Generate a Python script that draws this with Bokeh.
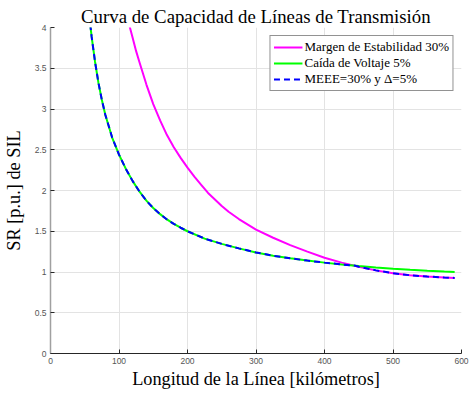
from bokeh.plotting import figure
from bokeh.embed import file_html
from bokeh.resources import INLINE
from bokeh.models import FixedTicker, NumeralTickFormatter, Range1d, Legend, LegendItem

# ---- data ----
green_km = [58, 60, 65, 70, 75, 80, 90, 100, 110, 120, 130, 140, 150, 160, 170, 180, 190, 200,
            225, 250, 275, 300, 325, 350, 375, 400, 425, 450, 475, 500, 525, 550, 575, 590]
green_sr = [4.04, 3.89, 3.58, 3.32, 3.11, 2.93, 2.65, 2.44, 2.265, 2.115, 1.985, 1.875, 1.785,
            1.71, 1.645, 1.59, 1.543, 1.50, 1.41, 1.345, 1.29, 1.24, 1.20, 1.168, 1.14, 1.115,
            1.093, 1.073, 1.056, 1.041, 1.028, 1.016, 1.005, 0.999]

mag_km = [115, 120, 125, 130, 140, 150, 160, 170, 180, 190, 200, 210, 220, 230, 240, 250, 260,
          275, 300, 325, 350, 375, 400, 425, 450, 475, 500, 525, 550, 575, 590]
mag_sr = [4.03, 3.87, 3.71, 3.57, 3.30, 3.06, 2.86, 2.68, 2.53, 2.40, 2.28, 2.17, 2.07, 1.97,
          1.89, 1.81, 1.74, 1.65, 1.52, 1.42, 1.33, 1.25, 1.175, 1.115, 1.065, 1.02, 0.985,
          0.96, 0.944, 0.933, 0.927]

blue_km = [58, 60, 65, 70, 75, 80, 90, 100, 110, 120, 130, 140, 150, 160, 170, 180, 190, 200,
           225, 250, 275, 300, 325, 350, 375, 400, 425, 445, 450, 475, 500, 525, 550, 575, 590]
blue_sr = [4.04, 3.89, 3.58, 3.32, 3.11, 2.93, 2.65, 2.44, 2.265, 2.115, 1.985, 1.875, 1.785,
           1.71, 1.645, 1.59, 1.543, 1.50, 1.41, 1.345, 1.29, 1.24, 1.20, 1.168, 1.14, 1.115,
           1.093, 1.077, 1.065, 1.02, 0.985, 0.96, 0.944, 0.933, 0.927]

x_ticks = [0, 100, 200, 300, 400, 500, 600]
y_ticks = [0, 0.5, 1, 1.5, 2, 2.5, 3, 3.5, 4]

title_text = "Curva de Capacidad de Líneas de Transmisión"
x_label = "Longitud de la Línea [kilómetros]"
y_label = "SR [p.u.] de SIL"
names = ["Margen de Estabilidad 30%", "Caída de Voltaje 5%", "MEEE=30% y \u0394=5%"]

SERIF = "Liberation Serif"
SANS = "Liberation Sans"

p = figure(width=469, height=393, output_backend="svg", toolbar_location=None,
           x_range=Range1d(0, 600), y_range=Range1d(0, 4),
           min_border_left=49, min_border_right=8, min_border_top=27, min_border_bottom=40,
           title=title_text)
p.outline_line_color = None
p.background_fill_color = "white"
p.border_fill_color = "white"

p.title.text_font = SERIF
p.title.text_font_size = "18.8px"
p.title.text_font_style = "normal"
p.title.align = "center"
p.title.text_color = "#000000"
p.title.standoff = 2

for ax in (p.xaxis[0], p.yaxis[0]):
    ax.major_tick_in = 4
    ax.major_tick_out = 0
    ax.minor_tick_in = 0
    ax.minor_tick_out = 0
    ax.major_label_text_font = SANS
    ax.major_label_text_font_size = "8.5px"
    ax.major_label_text_color = "#555555"
    ax.axis_label_text_font = SERIF
    ax.axis_label_text_font_size = "18.3px"
    ax.axis_label_text_font_style = "normal"
    ax.axis_label_text_color = "#000000"

p.xaxis[0].ticker = FixedTicker(ticks=x_ticks)
p.yaxis[0].ticker = FixedTicker(ticks=y_ticks)
p.yaxis[0].formatter = NumeralTickFormatter(format="0.[0]")
p.xaxis[0].axis_label = x_label
p.yaxis[0].axis_label = y_label
p.xaxis[0].axis_line_color = "#262626"
p.xaxis[0].major_tick_line_color = "#262626"
p.yaxis[0].axis_line_color = "#a0a0a0"
p.yaxis[0].axis_line_width = 1.5
p.yaxis[0].major_tick_line_color = "#262626"
p.xaxis[0].major_label_standoff = 4
p.yaxis[0].major_label_standoff = 4
p.xaxis[0].axis_label_standoff = 2
p.yaxis[0].axis_label_standoff = 8

p.xgrid.grid_line_color = "#e3e3e3"
p.ygrid.grid_line_color = "#e3e3e3"
p.xgrid.ticker = FixedTicker(ticks=x_ticks)
p.ygrid.ticker = FixedTicker(ticks=y_ticks)

r1 = p.line(mag_km, mag_sr, line_color="#ff00ff", line_width=2)
r2 = p.line(green_km, green_sr, line_color="#00ff00", line_width=2)
r3 = p.line(blue_km, blue_sr, line_color="#0000ff", line_width=2, line_dash="6 4")

legend = Legend(items=[LegendItem(label=names[0], renderers=[r1]),
                       LegendItem(label=names[1], renderers=[r2]),
                       LegendItem(label=names[2], renderers=[r3])],
                location="top_right")
legend.label_text_font = SERIF
legend.label_text_font_size = "13px"
legend.label_text_color = "#000000"
legend.glyph_width = 29
legend.glyph_height = 16
legend.label_height = 16
legend.label_standoff = 2
legend.spacing = 0
legend.padding = 3
legend.margin = 8
legend.border_line_color = "#262626"
legend.border_line_width = 1
legend.background_fill_color = "white"
legend.background_fill_alpha = 1
p.add_layout(legend)

open("out.html", "w").write(file_html(p, INLINE))
